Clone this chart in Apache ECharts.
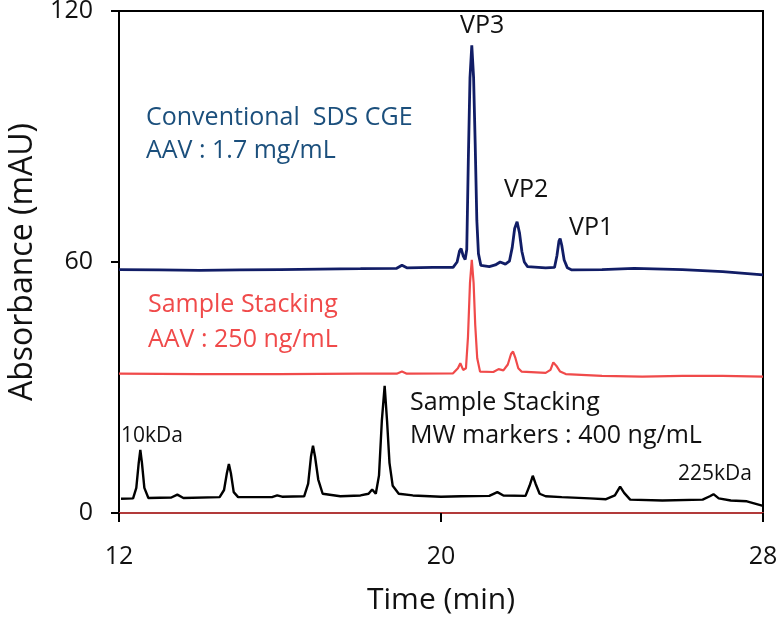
<!DOCTYPE html>
<html>
<head>
<meta charset="utf-8">
<script src="https://cdn.jsdelivr.net/npm/echarts@6/dist/echarts.min.js"></script>
<style>
html,body{margin:0;padding:0;background:#fff;}
#c{width:777px;height:620px;}
</style>
</head>
<body>
<div id="c"></div>
<script>
// Time ticks (min) and absorbance ticks (mAU)
var xTicks = [12, 20, 28];
var yTicks = [0, 60, 120];

// Conventional SDS CGE, AAV 1.7 mg/mL  [time, mAU]
var conventional = [
  [12.0, 58.2], [13.0, 58.1], [14.0, 58.0], [15.0, 58.1], [16.0, 58.2], [17.0, 58.3],
  [18.0, 58.4], [18.9, 58.5], [19.03, 59.2], [19.15, 58.6], [19.8, 58.7], [20.3, 58.7],
  [20.40, 60.0], [20.46, 62.6], [20.50, 63.2], [20.55, 61.5], [20.60, 60.6], [20.64, 63],
  [20.68, 85], [20.72, 104], [20.765, 111.8], [20.81, 104], [20.85, 88], [20.89, 70],
  [20.93, 62], [20.99, 59.2], [21.2, 58.9], [21.35, 59.3], [21.47, 60.0], [21.6, 59.5],
  [21.7, 60.2], [21.77, 63.5], [21.83, 68], [21.89, 69.6], [21.95, 67], [22.01, 62.5],
  [22.07, 60], [22.15, 58.9], [22.6, 58.6], [22.82, 58.7], [22.88, 61.5], [22.93, 65],
  [22.96, 65.6], [23.0, 64], [23.06, 60.5], [23.14, 58.6], [23.25, 58.1], [24.0, 58.2],
  [24.8, 58.5], [26.0, 58.2], [27.0, 57.7], [28.0, 56.9]
];

// Sample stacking, AAV 250 ng/mL  [time, mAU]
var stackingAAV = [
  [12.0, 33.3], [14.0, 33.2], [16.0, 33.2], [18.0, 33.3], [18.9, 33.3], [19.03, 33.8],
  [19.15, 33.3], [20.3, 33.4], [20.42, 34.6], [20.48, 35.8], [20.55, 34.2], [20.62, 34.6],
  [20.67, 42], [20.72, 55], [20.765, 60.5], [20.81, 55], [20.85, 45], [20.90, 37],
  [20.97, 33.8], [21.3, 33.7], [21.43, 34.4], [21.55, 34.1], [21.66, 35.5], [21.74, 38],
  [21.79, 38.6], [21.85, 37], [21.92, 34.6], [22.0, 33.8], [22.6, 33.5], [22.72, 34.2],
  [22.79, 36], [22.82, 36.3], [22.88, 35], [22.96, 33.8], [23.1, 33.2], [24.0, 32.8],
  [25.0, 32.6], [26.0, 32.8], [27.0, 32.8], [28.0, 32.6]
];

// Sample stacking, MW markers 400 ng/mL  [time, mAU]
var markers = [
  [12.05, 3.4], [12.35, 3.5], [12.43, 6], [12.49, 12], [12.53, 15.1], [12.57, 12], [12.63, 6],
  [12.73, 3.6], [13.3, 3.7], [13.45, 4.4], [13.6, 3.6], [14.5, 3.8], [14.61, 5.5],
  [14.68, 9.5], [14.73, 11.7], [14.78, 9.5], [14.85, 5], [14.96, 3.8], [15.8, 3.8],
  [15.93, 4.2], [16.05, 3.9], [16.6, 4.0], [16.7, 7], [16.77, 13.5], [16.82, 16.1],
  [16.87, 13.5], [16.95, 8], [17.06, 4.6], [17.5, 4.0], [18.0, 4.2], [18.2, 4.6],
  [18.29, 5.6], [18.38, 4.6], [18.46, 9], [18.53, 22], [18.6, 30.4], [18.66, 22],
  [18.72, 12], [18.8, 6.5], [18.95, 4.6], [19.3, 4.2], [20.0, 3.9], [20.5, 4.0],
  [21.2, 4.1], [21.4, 5.0], [21.55, 4.2], [22.1, 4.1], [22.2, 6.5], [22.28, 8.9],
  [22.35, 7], [22.45, 4.6], [22.6, 4.0], [23.0, 3.8], [23.7, 3.5], [24.1, 3.3],
  [24.32, 4.2], [24.45, 6.3], [24.55, 4.8], [24.7, 3.2], [25.5, 3.0], [26.5, 3.2],
  [26.68, 4.0], [26.77, 4.5], [26.9, 3.5], [27.2, 3.0], [27.6, 2.8], [28.0, 1.7]
];

var FONT = '"Open Sans", sans-serif';
var chart = echarts.init(document.getElementById('c'), null, {renderer: 'canvas'});

function label(text, x, y, color, size) {
  return {
    type: 'text', x: x, y: y, silent: true, z: 10,
    style: {text: text, fill: color, fontSize: size, fontFamily: FONT, verticalAlign: 'middle', align: 'left'}
  };
}

chart.setOption({
  animation: false,
  backgroundColor: '#fff',
  grid: {left: 119, right: 14, top: 11, bottom: 107, show: true, borderColor: '#000', borderWidth: 2,
         containLabel: false, outerBoundsMode: 'none'},
  xAxis: {
    type: 'value', min: xTicks[0], max: xTicks[xTicks.length - 1], interval: xTicks[1] - xTicks[0],
    name: 'Time (min)', nameLocation: 'middle', nameGap: 72,
    nameTextStyle: {fontFamily: FONT, fontSize: 30, color: '#111'},
    axisLine: {show: true, onZero: false, lineStyle: {color: '#b23a3a', width: 2}},
    axisTick: {show: true, inside: false, length: 9, lineStyle: {color: '#000', width: 2}},
    axisLabel: {fontFamily: FONT, fontSize: 25, color: '#111', margin: 31},
    splitLine: {show: false}
  },
  yAxis: {
    type: 'value', min: yTicks[0], max: yTicks[yTicks.length - 1], interval: yTicks[1] - yTicks[0],
    name: 'Absorbance (mAU)', nameLocation: 'middle', nameGap: 76, nameRotate: 90,
    nameTextStyle: {fontFamily: FONT, fontSize: 32, color: '#111'},
    axisLine: {show: true, lineStyle: {color: '#000', width: 2}},
    axisTick: {show: true, inside: false, length: 8, lineStyle: {color: '#000', width: 2}},
    axisLabel: {fontFamily: FONT, fontSize: 25, color: '#111', margin: 26},
    splitLine: {show: false}
  },
  series: [
    {name: 'Conventional SDS CGE', type: 'line', data: conventional, showSymbol: false, smooth: false,
     lineStyle: {color: '#111d66', width: 2.8}, z: 3},
    {name: 'Sample Stacking AAV', type: 'line', data: stackingAAV, showSymbol: false, smooth: false,
     lineStyle: {color: '#f04a4a', width: 2.2}, z: 2},
    {name: 'Sample Stacking MW markers', type: 'line', data: markers, showSymbol: false, smooth: false,
     lineStyle: {color: '#000', width: 2.4}, z: 2}
  ],
  graphic: [
    label('VP3', 460, 26, '#111', 25),
    label('VP2', 504, 190, '#111', 25),
    label('VP1', 569, 228, '#111', 25),
    label('Conventional  SDS CGE', 146, 117.5, '#1b4f7c', 25),
    label('AAV : 1.7 mg/mL', 146, 151, '#1b4f7c', 25),
    label('Sample Stacking', 148, 304.5, '#f04a4a', 25),
    label('AAV : 250 ng/mL', 148, 339.5, '#f04a4a', 25),
    label('Sample Stacking', 410, 402.5, '#111', 25),
    label('MW markers : 400 ng/mL', 410, 436, '#111', 25),
    label('10kDa', 121, 436, '#111', 21),
    label('225kDa', 678, 474, '#111', 21)
  ]
});
</script>
</body>
</html>
